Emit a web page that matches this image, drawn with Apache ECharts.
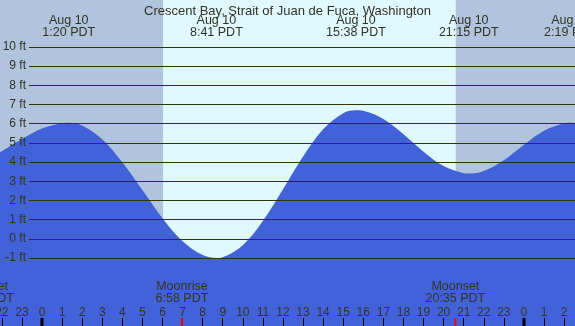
<!DOCTYPE html>
<html>
<head>
<meta charset="utf-8">
<script src="https://cdn.jsdelivr.net/npm/echarts@6/dist/echarts.min.js"></script>
<style>
  html, body { margin: 0; padding: 0; background: #e0f8ff; }
  #chart { width: 575px; height: 326px; }
</style>
</head>
<body>
<div id="chart"></div>
<script>
// hours from midnight Aug 10 (PDT), tide height in ft
const hours = [-2.09, -1, 0, 1, 1.33, 2, 3, 4, 5, 6, 7, 8, 8.68, 9, 10, 11, 12, 13, 14, 15, 15.63,
  16, 17, 18, 19, 20, 21, 21.25, 22, 23, 24, 25, 26, 26.32, 26.54]
const heights = [4.5, 5.2, 5.75, 6.03, 6.05, 5.91, 5.19, 3.99, 2.54, 1.07, -0.13, -0.85, -1.0, -0.96, -0.33, 0.93, 2.58, 4.29, 5.71, 6.55, 6.7,
  6.67, 6.24, 5.45, 4.54, 3.79, 3.42, 3.4, 3.54, 4.1, 4.9, 5.63, 6.02, 6.05, 6.03]

const tideTimes = [1.333, 8.683, 15.633, 21.25, 26.317]
const tideLabels = ['Aug 10\n1:20 PDT', 'Aug 10\n8:41 PDT', 'Aug 10\n15:38 PDT', 'Aug 10\n21:15 PDT', 'Aug 11\n2:19 PDT']

const nightRanges = [[-2.09, 6.03], [20.6, 26.54]]

const moonTimes = [-2.89, 6.967, 20.583]
const moonLabels = ['Moonset\n21:09 PDT', 'Moonrise\n6:58 PDT', 'Moonset\n20:35 PDT']
const midnights = [0, 24]

const footMin = -1
const footMax = 10
const hourMin = -2
const hourMax = 26

const textColor = '#333322'
const lineColor = '#333300'
const font = '"Liberation Sans", Arial, sans-serif'

const chart = echarts.init(document.getElementById('chart'))

const textSeries = (times, labels, top) => ({
  type: 'custom',
  xAxisIndex: 0,
  yAxisIndex: 0,
  z: 6,
  silent: true,
  data: times.map(t => [t, 0]),
  renderItem: (params, api) => ({
    type: 'text',
    x: api.coord([api.value(0), 0])[0],
    y: top,
    style: {
      text: labels[params.dataIndex],
      align: 'center',
      verticalAlign: 'top',
      font: '12.5px ' + font,
      lineHeight: 12,
      fill: textColor
    }
  })
})

const markTicks = [
  ...midnights.map(h => [h, '#000000', 3]),
  ...moonTimes.slice(1).map(h => [h, '#ff0000', 2])
]

chart.setOption({
  backgroundColor: '#e0f8ff',
  animation: false,
  title: {
    text: 'Crescent Bay, Strait of Juan de Fuca, Washington',
    left: 'center',
    top: 0,
    z: 8,
    textStyle: { fontSize: 13, fontWeight: 'normal', color: textColor, fontFamily: font }
  },
  grid: [
    { left: 0, right: 0, top: 0, bottom: 0, outerBoundsMode: 'none' },
    { left: 29, right: 0, top: 47, bottom: 68, outerBoundsMode: 'none' },
    { left: 1.84, right: 10.92, top: 0, bottom: 0, outerBoundsMode: 'none' }
  ],
  xAxis: [
    { gridIndex: 0, type: 'value', min: -2.09, max: 26.54, show: false },
    { gridIndex: 1, type: 'value', min: 0, max: 1, show: false },
    {
      gridIndex: 2, type: 'value', min: hourMin, max: hourMax, interval: 1, z: 10,
      axisLine: { show: false },
      splitLine: { show: false },
      axisTick: { inside: true, length: 8, lineStyle: { color: '#000' } },
      axisLabel: {
        inside: true, margin: 7, fontSize: 12, color: textColor, fontFamily: font,
        showMinLabel: true, showMaxLabel: true, hideOverlap: false,
        formatter: v => String(((v % 24) + 24) % 24)
      }
    }
  ],
  yAxis: [
    { gridIndex: 0, type: 'value', min: -4.545, max: 12.45, show: false },
    {
      gridIndex: 1, type: 'value', min: footMin, max: footMax, interval: 1, z: 10,
      axisLine: { show: false },
      axisTick: { show: false },
      splitLine: { show: true, lineStyle: { color: lineColor, width: 1 } },
      axisLabel: { margin: 3, fontSize: 12, color: textColor, fontFamily: font, formatter: '{value} ft' }
    },
    { gridIndex: 2, type: 'value', min: 0, max: 1, show: false }
  ],
  series: [
    {
      // night shading
      type: 'custom',
      xAxisIndex: 0,
      yAxisIndex: 0,
      z: 0,
      silent: true,
      data: nightRanges,
      renderItem: (params, api) => {
        const x0 = api.coord([api.value(0), 0])[0]
        const x1 = api.coord([api.value(1), 0])[0]
        return { type: 'rect', shape: { x: x0, y: 0, width: x1 - x0, height: 326 }, style: { fill: '#b0c4de' } }
      }
    },
    {
      type: 'line',
      xAxisIndex: 0,
      yAxisIndex: 0,
      z: 2,
      smooth: 0.35,
      symbol: 'none',
      data: hours.map((h, i) => [h, heights[i]]),
      lineStyle: { width: 0 },
      areaStyle: { color: '#4162d8', opacity: 1, origin: 'start' }
    },
    { type: 'line', xAxisIndex: 1, yAxisIndex: 1, data: [] },
    textSeries(tideTimes, tideLabels, 15),
    textSeries(moonTimes, moonLabels, 281),
    {
      // midnight and moon rise/set ticks
      type: 'custom',
      xAxisIndex: 0,
      yAxisIndex: 0,
      z: 12,
      silent: true,
      data: markTicks,
      renderItem: (params, api) => {
        const x = api.coord([api.value(0), 0])[0]
        const w = markTicks[params.dataIndex][2]
        return { type: 'rect', shape: { x: x - w / 2, y: 318, width: w, height: 8 }, style: { fill: markTicks[params.dataIndex][1] } }
      }
    }
  ]
})
</script>
</body>
</html>
